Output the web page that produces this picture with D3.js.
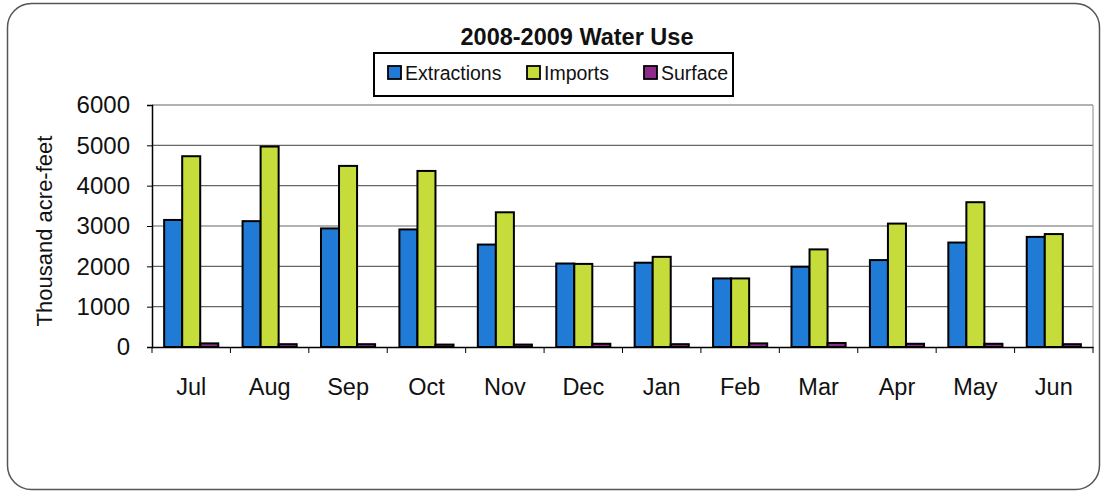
<!DOCTYPE html>
<html><head><meta charset="utf-8">
<script src="https://cdn.jsdelivr.net/npm/d3@7"></script>
<style>body{margin:0;background:#fff}svg{display:block;font-family:"Liberation Sans",Arial,sans-serif}</style>
</head><body><svg id="c" width="1106" height="493"></svg>
<script>
const months = ["Jul","Aug","Sep","Oct","Nov","Dec","Jan","Feb","Mar","Apr","May","Jun"];
const seriesNames = ["Extractions","Imports","Surface"];
const seriesColors = ["#1f7bd6","#c6dc3a","#8e2a8a"];
const extractions = [3150,3120,2940,2915,2540,2070,2090,1700,1990,2155,2590,2730];
const imports = [4730,4970,4490,4365,3340,2060,2235,1700,2420,3060,3590,2800];
const surface = [90,70,70,60,60,80,70,90,100,80,80,70];
const yTicks = [0,1000,2000,3000,4000,5000,6000];

const FF = "Liberation Sans, Arial, sans-serif";
const svg = d3.select("#c");
svg.append("rect").attr("x",7.5).attr("y",3.5).attr("width",1092).attr("height",486)
  .attr("rx",24).attr("fill","#fff").attr("stroke","#555").attr("stroke-width",1.5);

const m = {l:152,r:1093,t:105,b:347};
const x = d3.scaleBand().domain(months).range([m.l,m.r]).paddingInner(0).paddingOuter(0);
const bw = x.bandwidth();
const xs = d3.scaleBand().domain(seriesNames).range([bw*0.155,bw*0.845]).padding(0);
const y = d3.scaleLinear().domain([0,6000]).range([m.b,m.t]);

// gridlines
svg.append("g").selectAll("line").data(yTicks.filter(d=>d>0)).join("line")
  .attr("x1",m.l).attr("x2",m.r).attr("y1",d=>y(d)).attr("y2",d=>y(d))
  .attr("stroke","#666").attr("stroke-width",1.2);
svg.append("line").attr("x1",m.r).attr("x2",m.r).attr("y1",m.t).attr("y2",m.b).attr("stroke","#888");

const data = [extractions,imports,surface];
const g = svg.append("g");
months.forEach((mo,i)=>{
  seriesNames.forEach((s,j)=>{
    const v = data[j][i];
    g.append("rect").attr("x",x(mo)+xs(s)).attr("y",y(v)).attr("width",xs.bandwidth()).attr("height",y(0)-y(v))
      .attr("fill",seriesColors[j]).attr("stroke","#000").attr("stroke-width",2);
  });
});

// y axis
const ya = svg.append("g").attr("transform",`translate(${m.l},0)`)
  .call(d3.axisLeft(y).tickValues(yTicks).tickSize(5).tickPadding(17).tickFormat(d3.format("d")));
ya.select(".domain").attr("stroke","#000").attr("stroke-width",1.5);
ya.selectAll(".tick line").attr("stroke","#000");
ya.selectAll("text").attr("font-size",24).attr("fill","#111").attr("font-family",FF);

// x axis
const xa = svg.append("g").attr("transform",`translate(0,${m.b})`)
  .call(d3.axisBottom(x).tickSize(0).tickPadding(31));
xa.select(".domain").attr("stroke","#000").attr("stroke-width",1.5);
xa.selectAll("text").attr("font-size",23.5).attr("fill","#111").attr("font-family",FF);
svg.append("g").selectAll("line").data(months.concat(["end"])).join("line")
  .attr("x1",(d,i)=>m.l+i*bw).attr("x2",(d,i)=>m.l+i*bw)
  .attr("y1",m.b).attr("y2",m.b+6).attr("stroke","#000");

// y title
svg.append("text").attr("transform","translate(52,231) rotate(-90)").attr("text-anchor","middle")
  .attr("font-size",22).attr("fill","#111").attr("font-family",FF).text("Thousand acre-feet");

// title
svg.append("text").attr("x",577).attr("y",45).attr("text-anchor","middle")
  .attr("font-size",23.5).attr("font-weight","bold").attr("fill","#111").attr("font-family",FF).text("2008-2009 Water Use");

// legend
const lg = svg.append("g");
lg.append("rect").attr("x",374).attr("y",53).attr("width",359).attr("height",43)
  .attr("fill","#fff").attr("stroke","#000").attr("stroke-width",2);
const lx = [388,527,644];
seriesNames.forEach((s,j)=>{
  lg.append("rect").attr("x",lx[j]).attr("y",66).attr("width",13).attr("height",13)
    .attr("fill",seriesColors[j]).attr("stroke","#000").attr("stroke-width",1.8);
  lg.append("text").attr("x",lx[j]+17).attr("y",80).attr("font-size",19.5).attr("fill","#111").attr("font-family",FF).text(s);
});
</script></body></html>
